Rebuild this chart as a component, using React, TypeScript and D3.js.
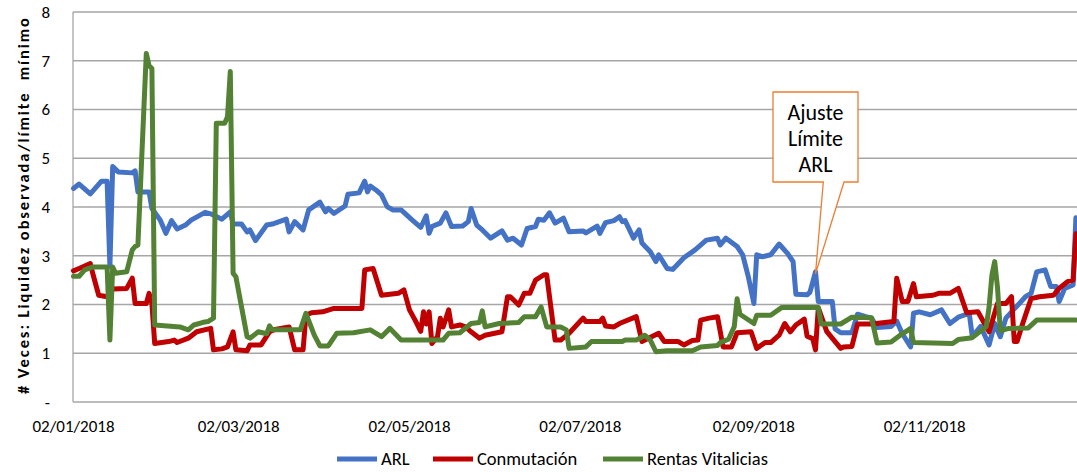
import React from "react";
import * as d3 from "d3";

// valores: [dd/mm de 2018, veces]
const arlPoints: [string, number][] = [
  ["02/01", 4.38], ["04/01", 4.47], ["08/01", 4.27], ["12/01", 4.53], ["14/01", 4.53], ["15/01", 2.78],
  ["16/01", 4.83], ["18/01", 4.72], ["23/01", 4.70], ["24/01", 4.74], ["25/01", 4.31], ["29/01", 4.31],
  ["30/01", 3.97], ["02/02", 3.73], ["04/02", 3.46], ["06/02", 3.72], ["08/02", 3.55], ["11/02", 3.63],
  ["13/02", 3.73], ["18/02", 3.89], ["20/02", 3.86], ["24/02", 3.75], ["27/02", 3.90], ["28/02", 3.65],
  ["03/03", 3.65], ["05/03", 3.49], ["06/03", 3.53], ["08/03", 3.31], ["12/03", 3.63], ["14/03", 3.65],
  ["19/03", 3.75], ["20/03", 3.49], ["22/03", 3.70], ["25/03", 3.53], ["27/03", 3.94], ["31/03", 4.10],
  ["02/04", 3.90], ["03/04", 3.97], ["05/04", 3.87], ["09/04", 4.02], ["10/04", 4.26], ["14/04", 4.29],
  ["16/04", 4.53], ["17/04", 4.31], ["18/04", 4.43], ["20/04", 4.35], ["22/04", 4.25], ["24/04", 4.01],
  ["26/04", 3.94], ["29/04", 3.94], ["03/05", 3.73], ["06/05", 3.58], ["08/05", 3.82], ["09/05", 3.46],
  ["10/05", 3.60], ["13/05", 3.67], ["15/05", 3.88], ["17/05", 3.60], ["21/05", 3.61], ["23/05", 3.70],
  ["24/05", 3.97], ["26/05", 3.63], ["28/05", 3.53], ["31/05", 3.36], ["04/06", 3.51], ["06/06", 3.32],
  ["08/06", 3.36], ["11/06", 3.22], ["13/06", 3.56], ["16/06", 3.60], ["17/06", 3.75], ["19/06", 3.73],
  ["21/06", 3.88], ["23/06", 3.67], ["26/06", 3.77], ["28/06", 3.49], ["03/07", 3.51], ["04/07", 3.47],
  ["08/07", 3.61], ["09/07", 3.46], ["11/07", 3.68], ["14/07", 3.72], ["16/07", 3.80], ["17/07", 3.70],
  ["18/07", 3.72], ["21/07", 3.36], ["23/07", 3.53], ["24/07", 3.26], ["27/07", 3.08], ["29/07", 2.88],
  ["30/07", 3.02], ["02/08", 2.74], ["04/08", 2.72], ["08/08", 2.96], ["12/08", 3.12], ["16/08", 3.32],
  ["20/08", 3.36], ["21/08", 3.22], ["23/08", 3.36], ["27/08", 3.19], ["29/08", 3.02], ["31/08", 2.57],
  ["02/09", 2.02], ["03/09", 3.02], ["05/09", 2.98], ["08/09", 3.02], ["11/09", 3.24], ["14/09", 3.05],
  ["16/09", 2.88], ["17/09", 2.21], ["21/09", 2.20], ["22/09", 2.25], ["24/09", 2.67], ["25/09", 2.06],
  ["30/09", 2.06], ["01/10", 1.50], ["03/10", 1.42], ["07/10", 1.42], ["09/10", 1.80], ["12/10", 1.75],
  ["14/10", 1.72], ["16/10", 1.53], ["21/10", 1.55], ["23/10", 1.66], ["25/10", 1.40], ["28/10", 1.13],
  ["29/10", 1.82], ["31/10", 1.85], ["04/11", 1.79], ["08/11", 1.89], ["11/11", 1.61], ["14/11", 1.74],
  ["17/11", 1.80], ["18/11", 1.78], ["19/11", 1.34], ["22/11", 1.55], ["25/11", 1.17], ["27/11", 1.61],
  ["29/11", 1.34], ["01/12", 1.72], ["08/12", 2.16], ["10/12", 2.23], ["12/12", 2.67], ["15/12", 2.71],
  ["17/12", 2.37], ["19/12", 2.37], ["20/12", 2.06], ["22/12", 2.33], ["25/12", 2.40], ["26/12", 3.78],
];

const conmutacionPoints: [string, number][] = [
  ["02/01", 2.69], ["04/01", 2.74], ["08/01", 2.84], ["09/01", 2.61], ["11/01", 2.19], ["14/01", 2.16],
  ["16/01", 2.32], ["21/01", 2.33], ["23/01", 2.54], ["24/01", 2.02], ["28/01", 2.02], ["29/01", 2.23],
  ["30/01", 2.02], ["31/01", 1.20], ["05/02", 1.24], ["07/02", 1.27], ["08/02", 1.22], ["12/02", 1.31],
  ["15/02", 1.44], ["20/02", 1.51], ["21/02", 1.07], ["24/02", 1.09], ["26/02", 1.13], ["28/02", 1.44],
  ["01/03", 1.07], ["05/03", 1.05], ["06/03", 1.17], ["10/03", 1.17], ["13/03", 1.44], ["15/03", 1.49],
  ["20/03", 1.54], ["22/03", 1.07], ["25/03", 1.07], ["26/03", 1.78], ["28/03", 1.83], ["01/04", 1.85],
  ["05/04", 1.92], ["15/04", 1.92], ["16/04", 2.71], ["19/04", 2.74], ["22/04", 2.19], ["28/04", 2.23],
  ["30/04", 2.30], ["02/05", 1.89], ["04/05", 1.68], ["06/05", 1.45], ["07/05", 1.85], ["08/05", 1.60],
  ["09/05", 1.85], ["10/05", 1.20], ["12/05", 1.34], ["13/05", 1.72], ["14/05", 1.54], ["16/05", 1.89],
  ["17/05", 1.54], ["20/05", 1.58], ["22/05", 1.54], ["24/05", 1.44], ["27/05", 1.31], ["29/05", 1.37],
  ["04/06", 1.44], ["06/06", 2.16], ["07/06", 2.16], ["10/06", 1.99], ["12/06", 2.23], ["14/06", 2.23],
  ["16/06", 2.50], ["19/06", 2.61], ["20/06", 2.61], ["23/06", 1.27], ["25/06", 1.27], ["28/06", 1.41],
  ["03/07", 1.72], ["04/07", 1.65], ["09/07", 1.65], ["10/07", 1.72], ["11/07", 1.56], ["14/07", 1.54],
  ["16/07", 1.61], ["22/07", 1.75], ["24/07", 1.24], ["30/07", 1.41], ["01/08", 1.24], ["06/08", 1.24],
  ["08/08", 1.17], ["11/08", 1.26], ["13/08", 1.27], ["14/08", 1.68], ["17/08", 1.72], ["20/08", 1.75],
  ["22/08", 1.13], ["25/08", 1.13], ["27/08", 1.42], ["01/09", 1.44], ["03/09", 1.10], ["06/09", 1.22],
  ["08/09", 1.22], ["11/09", 1.37], ["13/09", 1.61], ["15/09", 1.44], ["17/09", 1.58], ["20/09", 1.70],
  ["21/09", 1.35], ["23/09", 1.30], ["24/09", 1.07], ["25/09", 1.93], ["28/09", 1.45], ["01/10", 1.24],
  ["03/10", 1.10], ["04/10", 1.13], ["07/10", 1.14], ["09/10", 1.60], ["14/10", 1.60], ["22/10", 1.65],
  ["23/10", 2.54], ["25/10", 2.06], ["27/10", 2.06], ["29/10", 2.43], ["30/10", 2.16], ["05/11", 2.19],
  ["07/11", 2.23], ["11/11", 2.23], ["14/11", 2.33], ["17/11", 1.83], ["21/11", 1.85], ["25/11", 1.44],
  ["28/11", 2.02], ["01/12", 2.02], ["03/12", 2.16], ["04/12", 1.24], ["05/12", 1.24], ["07/12", 1.61],
  ["10/12", 2.12], ["13/12", 2.16], ["18/12", 2.19], ["20/12", 2.33], ["23/12", 2.47], ["25/12", 2.50],
  ["26/12", 3.45],
];

const rentasPoints: [string, number][] = [
  ["02/01", 2.58], ["04/01", 2.58], ["06/01", 2.71], ["09/01", 2.77], ["14/01", 2.77], ["15/01", 1.27],
  ["16/01", 2.77], ["17/01", 2.64], ["21/01", 2.67], ["23/01", 3.12], ["24/01", 3.19], ["25/01", 3.22],
  ["28/01", 7.15], ["29/01", 6.90], ["30/01", 6.84], ["31/01", 1.58], ["09/02", 1.54], ["12/02", 1.48],
  ["14/02", 1.58], ["17/02", 1.63], ["19/02", 1.65], ["21/02", 1.72], ["22/02", 5.72], ["25/02", 5.72],
  ["26/02", 5.85], ["27/02", 6.78], ["28/02", 2.64], ["01/03", 2.57], ["05/03", 1.34], ["06/03", 1.31],
  ["09/03", 1.44], ["12/03", 1.40], ["13/03", 1.56], ["14/03", 1.48], ["24/03", 1.48], ["26/03", 1.82],
  ["29/03", 1.37], ["31/03", 1.15], ["03/04", 1.15], ["06/04", 1.41], ["12/04", 1.42], ["18/04", 1.48],
  ["22/04", 1.34], ["25/04", 1.51], ["29/04", 1.27], ["06/05", 1.27], ["14/05", 1.27], ["16/05", 1.41],
  ["20/05", 1.42], ["24/05", 1.61], ["27/05", 1.63], ["28/05", 1.87], ["29/05", 1.54], ["03/06", 1.61],
  ["10/06", 1.63], ["12/06", 1.75], ["16/06", 1.75], ["18/06", 1.95], ["20/06", 1.54], ["25/06", 1.54],
  ["27/06", 1.48], ["28/06", 1.10], ["04/07", 1.13], ["06/07", 1.24], ["17/07", 1.24], ["18/07", 1.27],
  ["22/07", 1.27], ["25/07", 1.37], ["27/07", 1.27], ["29/07", 1.03], ["02/08", 1.05], ["11/08", 1.05],
  ["14/08", 1.13], ["20/08", 1.16], ["21/08", 1.22], ["24/08", 1.29], ["26/08", 1.55], ["27/08", 2.12],
  ["28/08", 1.80], ["02/09", 1.61], ["03/09", 1.78], ["08/09", 1.78], ["12/09", 1.94], ["25/09", 1.94],
  ["26/09", 1.60], ["03/10", 1.60], ["07/10", 1.74], ["14/10", 1.73], ["16/10", 1.21], ["21/10", 1.23],
  ["24/10", 1.36], ["28/10", 1.51], ["29/10", 1.22], ["12/11", 1.20], ["14/11", 1.28], ["19/11", 1.32],
  ["23/11", 1.50], ["24/11", 1.55], ["25/11", 1.95], ["26/11", 2.60], ["27/11", 2.88], ["28/11", 2.35],
  ["29/11", 1.46], ["02/12", 1.51], ["09/12", 1.52], ["12/12", 1.68], ["26/12", 1.68],
];

const seriesNames = ["ARL", "Conmutación", "Rentas Vitalicias"];
const seriesColors = ["#4472C4", "#C00000", "#548235"];
const yTicks = [0, 1, 2, 3, 4, 5, 6, 7, 8];
const xTickLabels = ["02/01/2018", "02/03/2018", "02/05/2018", "02/07/2018", "02/09/2018", "02/11/2018"];
const calloutLines = ["Ajuste", "Límite", "ARL"];
const calloutDate = "24/09";
const yTitle = "# Veces: Liquidez observada/límite  mínimo";

const W = 1077;
const H = 472;
const FONT = "Calibri, Carlito, Lato, sans-serif";

const parseDay = d3.timeParse("%d/%m/%Y");
const toDate = (s: string) => parseDay(s + "/2018") as Date;

const x = d3.scaleTime()
  .domain([toDate("02/01"), toDate("26/12")])
  .range([73.5, 1075.9]);
const y = d3.scaleLinear().domain([0, 8]).range([402, 12]);

const line = d3.line<[Date, number]>()
  .x(d => x(d[0]))
  .y(d => y(d[1]));

const series = [arlPoints, conmutacionPoints, rentasPoints].map(pts =>
  pts.map(([s, v]) => [toDate(s), v] as [Date, number]).sort((a, b) => +a[0] - +b[0])
);

export default function App() {
  const tipX = x(toDate(calloutDate));
  const tipY = y(arlPoints.find(p => p[0] === calloutDate)![1]) + 2;
  const box = { x0: 773, x1: 858, y0: 92, y1: 182 };

  const legendX = [337, 433, 603];

  return (
    <svg width={W} height={H} style={{ position: "absolute", left: 0, top: 0, background: "#fff" }}
      fontFamily={FONT}>
      {/* rejilla horizontal */}
      {yTicks.map(t => (
        <line key={t} x1={73} x2={W} y1={y(t)} y2={y(t)} stroke="#a6a6a6" strokeWidth={1.3} />
      ))}
      <line x1={73} x2={73} y1={y(8)} y2={y(0)} stroke="#a6a6a6" strokeWidth={1.3} />

      {/* etiquetas eje Y */}
      {yTicks.map(t => (
        <text key={t} x={50} y={y(t)} dy="0.35em" textAnchor="end" fontSize={17} fill="#000">
          {t === 0 ? "-" : t}
        </text>
      ))}
      <text transform={`translate(23,${y(0) - 8}) rotate(-90)`} textAnchor="start" dy="0.35em"
        fontSize={16.5} fontWeight="bold" fill="#000" textLength={376} lengthAdjust="spacing"
        style={{ whiteSpace: "pre" }}>
        {yTitle}
      </text>

      {/* etiquetas eje X */}
      {xTickLabels.map(lbl => (
        <text key={lbl} x={x(parseDay(lbl) as Date)} y={426} dy="0.35em" textAnchor="middle"
          fontSize={17} fill="#000">
          {lbl}
        </text>
      ))}

      {/* series */}
      {series.map((pts, i) => (
        <path key={i} d={line(pts) || ""} fill="none" stroke={seriesColors[i]} strokeWidth={5}
          strokeLinejoin="round" strokeLinecap="round" />
      ))}

      {/* llamada */}
      <path
        d={`M${box.x0},${box.y0}H${box.x1}V${box.y1}H844L${tipX},${tipY}L823.3,${box.y1}H${box.x0}Z`}
        fill="#fff" stroke="#ED7D31" strokeWidth={1.3} />
      {calloutLines.map((t, i) => (
        <text key={t} x={(box.x0 + box.x1) / 2} y={120 + i * 26} textAnchor="middle" fontSize={22} fill="#000">
          {t}
        </text>
      ))}

      {/* leyenda */}
      {seriesNames.map((n, i) => (
        <g key={n} transform={`translate(${legendX[i]},459)`}>
          <line x1={0} x2={40} y1={0} y2={0} stroke={seriesColors[i]} strokeWidth={5} />
          <text x={44} y={0} dy="0.35em" fontSize={18.5} fill="#000">{n}</text>
        </g>
      ))}
    </svg>
  );
}
